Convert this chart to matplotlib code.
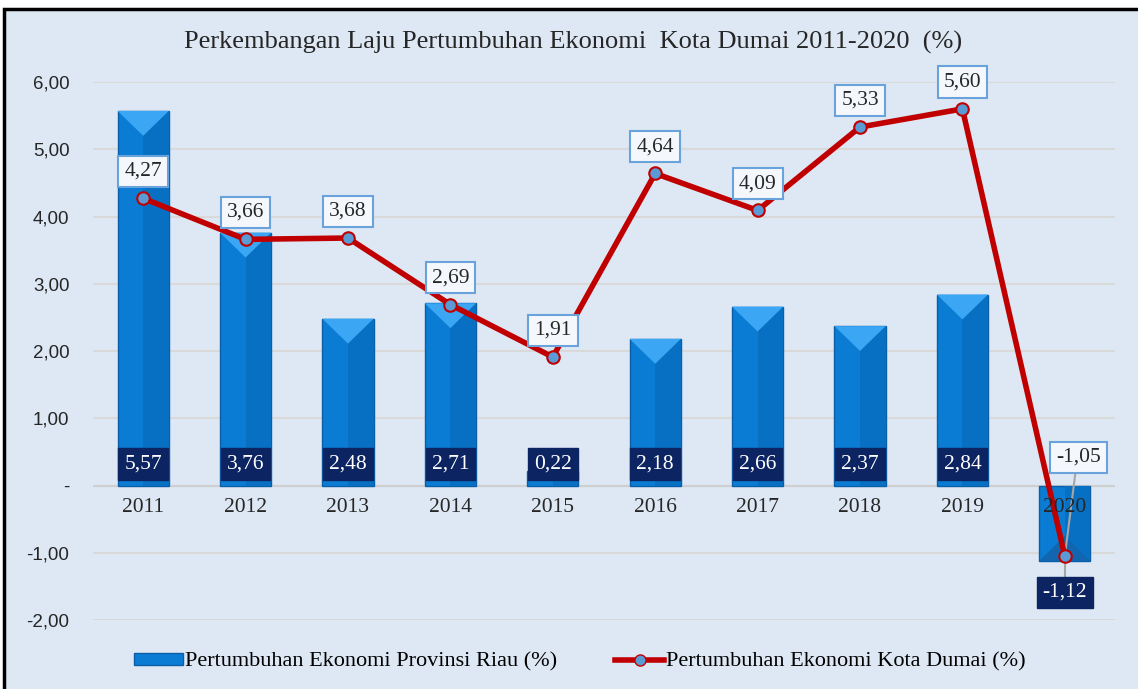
import numpy as np
import matplotlib.pyplot as plt
from matplotlib.patches import Rectangle, Patch
from matplotlib.lines import Line2D

years = ["2011", "2012", "2013", "2014", "2015", "2016", "2017", "2018", "2019", "2020"]
riau = [5.57, 3.76, 2.48, 2.71, 0.22, 2.18, 2.66, 2.37, 2.84, -1.12]
dumai = [4.27, 3.66, 3.68, 2.69, 1.91, 4.64, 4.09, 5.33, 5.60, -1.05]
yticks = [-2, -1, 0, 1, 2, 3, 4, 5, 6]

plt.rcParams['font.family'] = ['Liberation Serif', 'DejaVu Serif']

BG = '#dde8f4'
fig = plt.figure(figsize=(11.38, 6.89), dpi=100)
fig.patch.set_facecolor('white')
# outer frame of the chart area
fig.patches.append(Rectangle((4 / 1138, -0.05), 1.1, 1 - 9 / 689 + 0.05, transform=fig.transFigure,
                             facecolor=BG, edgecolor='black', linewidth=2.5, zorder=-5))

ax = fig.add_axes([93 / 1138, 1 - 620 / 689, (1115 - 93) / 1138, (620 - 82) / 689])
ax.set_facecolor('none')
x = np.arange(len(years))
w = 0.5

# bars with a simple bevel
ax.bar(x, riau, width=w, color='#0a7cd3', edgecolor='#0b5ea8', linewidth=1, zorder=2)
ax.bar(x, riau, width=w / 2, align='edge', color='#0870c2', linewidth=0, zorder=2)
for xi, v in zip(x, riau):
    d = 0.37 if v > 0 else -0.37
    if abs(v) > 0.5:
        ax.fill([xi - w / 2, xi + w / 2, xi], [v, v, v - d],
                color='#3aa6f4' if v > 0 else '#1266b0', zorder=3, linewidth=0)

# line series
ax.plot(x, dumai, color='#c00000', linewidth=4, zorder=4,
        marker='o', markersize=9, markerfacecolor='#5b9bd5',
        markeredgecolor='#c00000', markeredgewidth=1.5)

# bar labels
for xi, v in zip(x, riau):
    ly = 0.32 if v > 0 else v - 0.47
    ax.text(xi, ly, f"{v:.2f}".replace('.', ','), ha='center', va='center',
            fontsize=15.5, color='white', zorder=6,
            bbox=dict(boxstyle='square,pad=0.28', facecolor='#0c2461', edgecolor='#0c2461'))

# line labels
for xi, v in zip(x, dumai):
    lx, ly = xi, v + 0.40
    if v < 0:
        lx, ly = xi + 0.13, 0.42
        ax.plot([lx - 0.02, xi], [ly - 0.15, v], color='#a6a6a6', linewidth=1.5, zorder=3.5)
        ax.plot([xi, xi], [v, v - 0.35], color='#a6a6a6', linewidth=1.5, zorder=3.5)
    ax.text(lx, ly, f"{v:.2f}".replace('.', ','), ha='center', va='center',
            fontsize=15.5, color='#262626', zorder=6,
            bbox=dict(boxstyle='square,pad=0.28', facecolor='#f4f8fc', edgecolor='#6aa2dc', linewidth=1.5))

# category labels sitting on the zero line
for xi, yr in zip(x, years):
    ax.text(xi, -0.32, yr, ha='center', va='center', fontsize=15.5, color='#262626', zorder=7)

ax.set_xlim(-0.49, 9.49)
ax.set_ylim(-2.0, 6.0)
ax.set_yticks(yticks)
ax.set_yticklabels([f"{t:.2f}".replace('.', ',') if t != 0 else '-' for t in yticks],
                   fontsize=13.5, color='#262626', family='Liberation Sans')
ax.set_xticks([])
ax.tick_params(axis='y', length=0, pad=17)
ax.grid(axis='y', color='#d9d9d9', linewidth=1.5, zorder=0)
ax.set_axisbelow(True)
ax.axhline(0, color='#cfcfcf', linewidth=1.5, zorder=1)
for s in ax.spines.values():
    s.set_visible(False)

fig.text(573 / 1138, 1 - 42 / 689, "Perkembangan Laju Pertumbuhan Ekonomi  Kota Dumai 2011-2020  (%)",
         ha='center', va='center', fontsize=19, color='#262626')

handles = [Patch(facecolor='#0a7cd3', edgecolor='#0b5ea8'),
           Line2D([0], [0], color='#c00000', linewidth=4, marker='o', markersize=8,
                  markerfacecolor='#5b9bd5', markeredgecolor='#c00000')]
fig.legend(handles, ["Pertumbuhan Ekonomi Provinsi Riau (%)", "Pertumbuhan Ekonomi Kota Dumai (%)"],
           loc='center', bbox_to_anchor=(580 / 1138, 1 - 662 / 689), ncol=2, frameon=False,
           fontsize=16, handlelength=2.2, handleheight=0.45, handletextpad=0.1, columnspacing=2.6)

fig.savefig('out.png', dpi=100, facecolor=fig.get_facecolor())
